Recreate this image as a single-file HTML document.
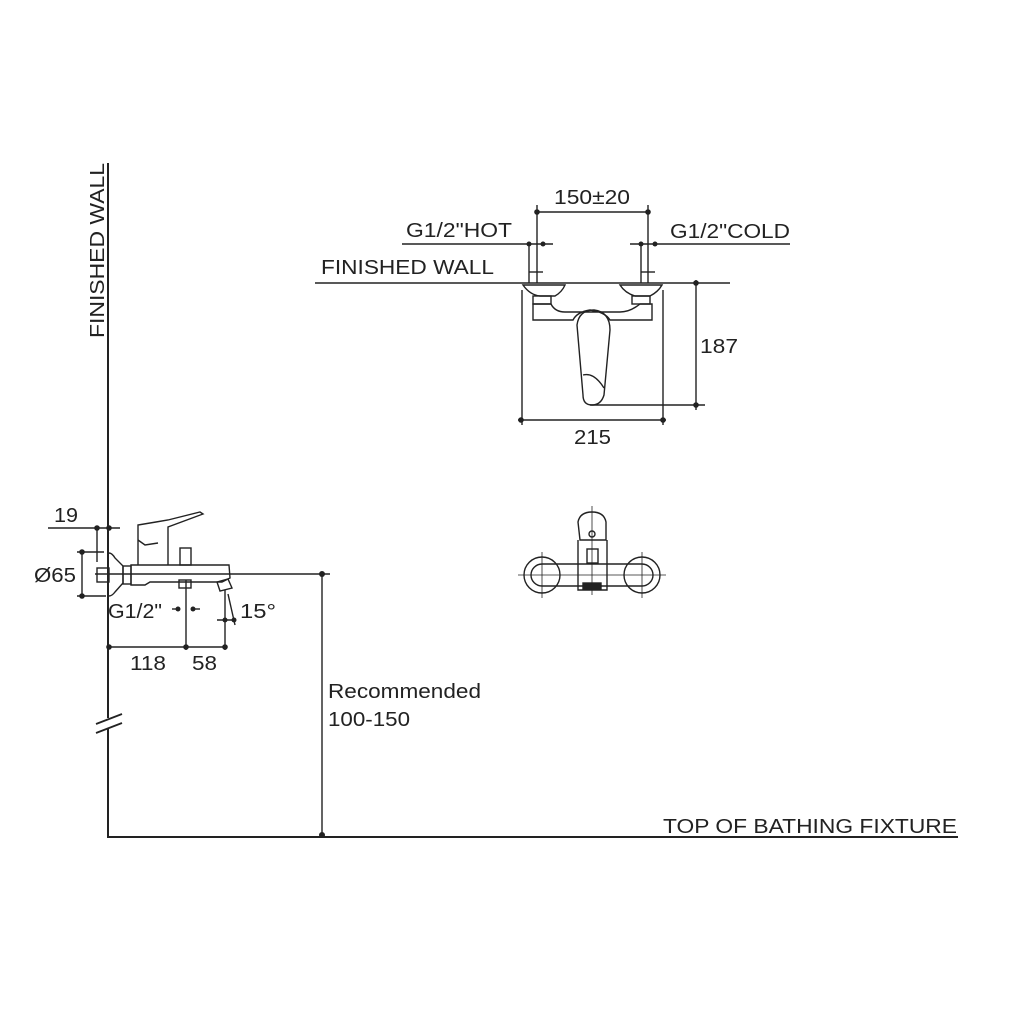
<!DOCTYPE html>
<html><head><style>html,body{margin:0;padding:0;background:#fff}svg{display:block}</style></head>
<body>
<svg width="1024" height="1024" viewBox="0 0 1024 1024" xmlns="http://www.w3.org/2000/svg" font-family="Liberation Sans, sans-serif" fill="none" stroke="#222" stroke-width="1.4">
<!-- wall & base -->
<line x1="108" y1="163" x2="108" y2="718" stroke-width="2"/>
<line x1="108" y1="729" x2="108" y2="838" stroke-width="2"/>
<line x1="96" y1="724" x2="122" y2="714" stroke-width="1.8"/>
<line x1="96" y1="733" x2="122" y2="723" stroke-width="1.8"/>
<line x1="107" y1="837" x2="958" y2="837" stroke-width="2"/>
<g fill="#222" stroke="none" font-size="20" lengthAdjust="spacingAndGlyphs">
<text transform="translate(104,338) rotate(-90)" textLength="175" lengthAdjust="spacingAndGlyphs">FINISHED WALL</text>
<text x="663" y="833" textLength="294" lengthAdjust="spacingAndGlyphs">TOP OF BATHING FIXTURE</text>
<text x="328" y="698" textLength="153" lengthAdjust="spacingAndGlyphs">Recommended</text>
<text x="328" y="726" textLength="82" lengthAdjust="spacingAndGlyphs">100-150</text>
<text x="54" y="522" textLength="24" lengthAdjust="spacingAndGlyphs">19</text>
<text x="34" y="582" textLength="42" lengthAdjust="spacingAndGlyphs">Ø65</text>
<text x="108" y="618" textLength="54" lengthAdjust="spacingAndGlyphs">G1/2"</text>
<text x="240" y="618" textLength="36" lengthAdjust="spacingAndGlyphs">15°</text>
<text x="130" y="670" textLength="36" lengthAdjust="spacingAndGlyphs">118</text>
<text x="192" y="670" textLength="25" lengthAdjust="spacingAndGlyphs">58</text>
<text x="554" y="204" textLength="76" lengthAdjust="spacingAndGlyphs">150±20</text>
<text x="406" y="237" textLength="106" lengthAdjust="spacingAndGlyphs">G1/2"HOT</text>
<text x="670" y="238" textLength="120" lengthAdjust="spacingAndGlyphs">G1/2"COLD</text>
<text x="321" y="274" textLength="173" lengthAdjust="spacingAndGlyphs">FINISHED WALL</text>
<text x="700" y="353" textLength="38" lengthAdjust="spacingAndGlyphs">187</text>
<text x="574" y="444" textLength="37" lengthAdjust="spacingAndGlyphs">215</text>
</g>
<!-- recommended dim -->
<line x1="322" y1="574" x2="322" y2="837"/>
<line x1="95" y1="574" x2="330" y2="574"/>
<g fill="#222" stroke="none">
<circle cx="322" cy="574" r="3"/><circle cx="322" cy="835" r="3"/>
<circle cx="97" cy="528" r="2.8"/><circle cx="109" cy="528" r="2.8"/>
<circle cx="82" cy="552" r="2.8"/><circle cx="82" cy="596" r="2.8"/>
<circle cx="178" cy="609" r="2.5"/><circle cx="193" cy="609" r="2.5"/>
<circle cx="225" cy="620" r="2.5"/><circle cx="234" cy="620" r="2.5"/>
<circle cx="109" cy="647" r="2.8"/><circle cx="186" cy="647" r="2.8"/><circle cx="225" cy="647" r="2.8"/>
<circle cx="537" cy="212" r="2.8"/><circle cx="648" cy="212" r="2.8"/>
<circle cx="529" cy="244" r="2.5"/><circle cx="543" cy="244" r="2.5"/>
<circle cx="641" cy="244" r="2.5"/><circle cx="655" cy="244" r="2.5"/>
<circle cx="696" cy="283" r="2.8"/><circle cx="696" cy="405" r="2.8"/>
<circle cx="521" cy="420" r="2.8"/><circle cx="663" cy="420" r="2.8"/>
</g>
<!-- side view dims -->
<line x1="48" y1="528" x2="120" y2="528"/>
<line x1="97" y1="528" x2="97" y2="562"/>
<line x1="77" y1="552" x2="104" y2="552"/><line x1="77" y1="596" x2="106" y2="596"/>
<line x1="82" y1="552" x2="82" y2="596"/>
<line x1="172" y1="609" x2="180" y2="609"/><line x1="191" y1="609" x2="200" y2="609"/>
<line x1="186" y1="580" x2="186" y2="650"/>
<line x1="225" y1="590" x2="225" y2="650"/>
<line x1="217" y1="620" x2="236" y2="620"/>
<line x1="228" y1="594" x2="235" y2="625"/>
<line x1="109" y1="647" x2="226" y2="647"/>
<!-- side view faucet -->
<path d="M109 553 Q112 553 115 558 L123 566 L123 583 L115 592 Q112 596 109 596"/>
<rect x="97" y="568" width="12" height="14"/>
<rect x="123" y="566" width="8" height="18"/>
<path d="M131 565 H229 L230 578 L222 582 H150 L145 585 H131 Z"/>
<path d="M138 565 V525 L156 522 L168 520 L200 512 L203 514 L168 527 L168 565"/>
<path d="M138 540 L145 545 L158 543"/>
<rect x="180" y="548" width="11" height="17"/>
<rect x="179" y="580" width="12" height="8"/>
<path d="M217 582 L228 579 L232 588 L220 591 Z"/>
<!-- front view -->
<line x1="315" y1="283" x2="730" y2="283"/>
<line x1="537" y1="205" x2="537" y2="283"/><line x1="648" y1="205" x2="648" y2="283"/>
<line x1="537" y1="212" x2="648" y2="212"/>
<line x1="402" y1="244" x2="553" y2="244"/><line x1="630" y1="244" x2="790" y2="244"/>
<line x1="529" y1="244" x2="529" y2="283"/><line x1="641" y1="244" x2="641" y2="283"/>
<line x1="529" y1="272" x2="543" y2="272"/><line x1="641" y1="272" x2="655" y2="272"/>
<path d="M523 285 Q530 295 540 296 L555 296 Q562 292 565 285 Z"/>
<path d="M620 285 Q625 293 635 296 L650 296 Q658 292 662 285 Z"/>
<rect x="533" y="296" width="18" height="8"/><rect x="632" y="296" width="18" height="8"/>
<path d="M533 304 V320 H573 Q577 312 590 310 Q605 312 610 320 H652 V304 H640 Q630 312 620 312 H565 Q555 312 551 304 Z"/>
<path d="M577 325 Q579 310 594 310 Q610 312 610 330 L604 395 Q601 405 592 405 Q583 405 583 395 Z"/>
<path d="M583 375 Q594 372 604 388"/>
<line x1="522" y1="290" x2="522" y2="425"/><line x1="663" y1="290" x2="663" y2="425"/>
<line x1="518" y1="420" x2="666" y2="420"/>
<line x1="696" y1="280" x2="696" y2="410"/>
<line x1="590" y1="405" x2="705" y2="405"/>
<!-- bottom view -->
<circle cx="542" cy="575" r="18"/><circle cx="642" cy="575" r="18"/>
<path d="M542 564 H642 A11 11 0 0 1 642 586 H542 A11 11 0 0 1 542 564 Z"/>
<path d="M578 540 V590 H607 V540"/>
<path d="M580 540 L578 522 Q580 512 592 512 Q604 512 606 522 L606 540 Z"/>
<circle cx="592" cy="534" r="3"/>
<rect x="587" y="549" width="11" height="14"/>
<rect x="583" y="583" width="18" height="6" fill="#222"/>
<g stroke-width="0.8">
<line x1="518" y1="575" x2="666" y2="575"/>
<line x1="542" y1="552" x2="542" y2="598"/><line x1="642" y1="552" x2="642" y2="598"/>
<line x1="592" y1="506" x2="592" y2="595"/>
</g>
</svg>
</body></html>
